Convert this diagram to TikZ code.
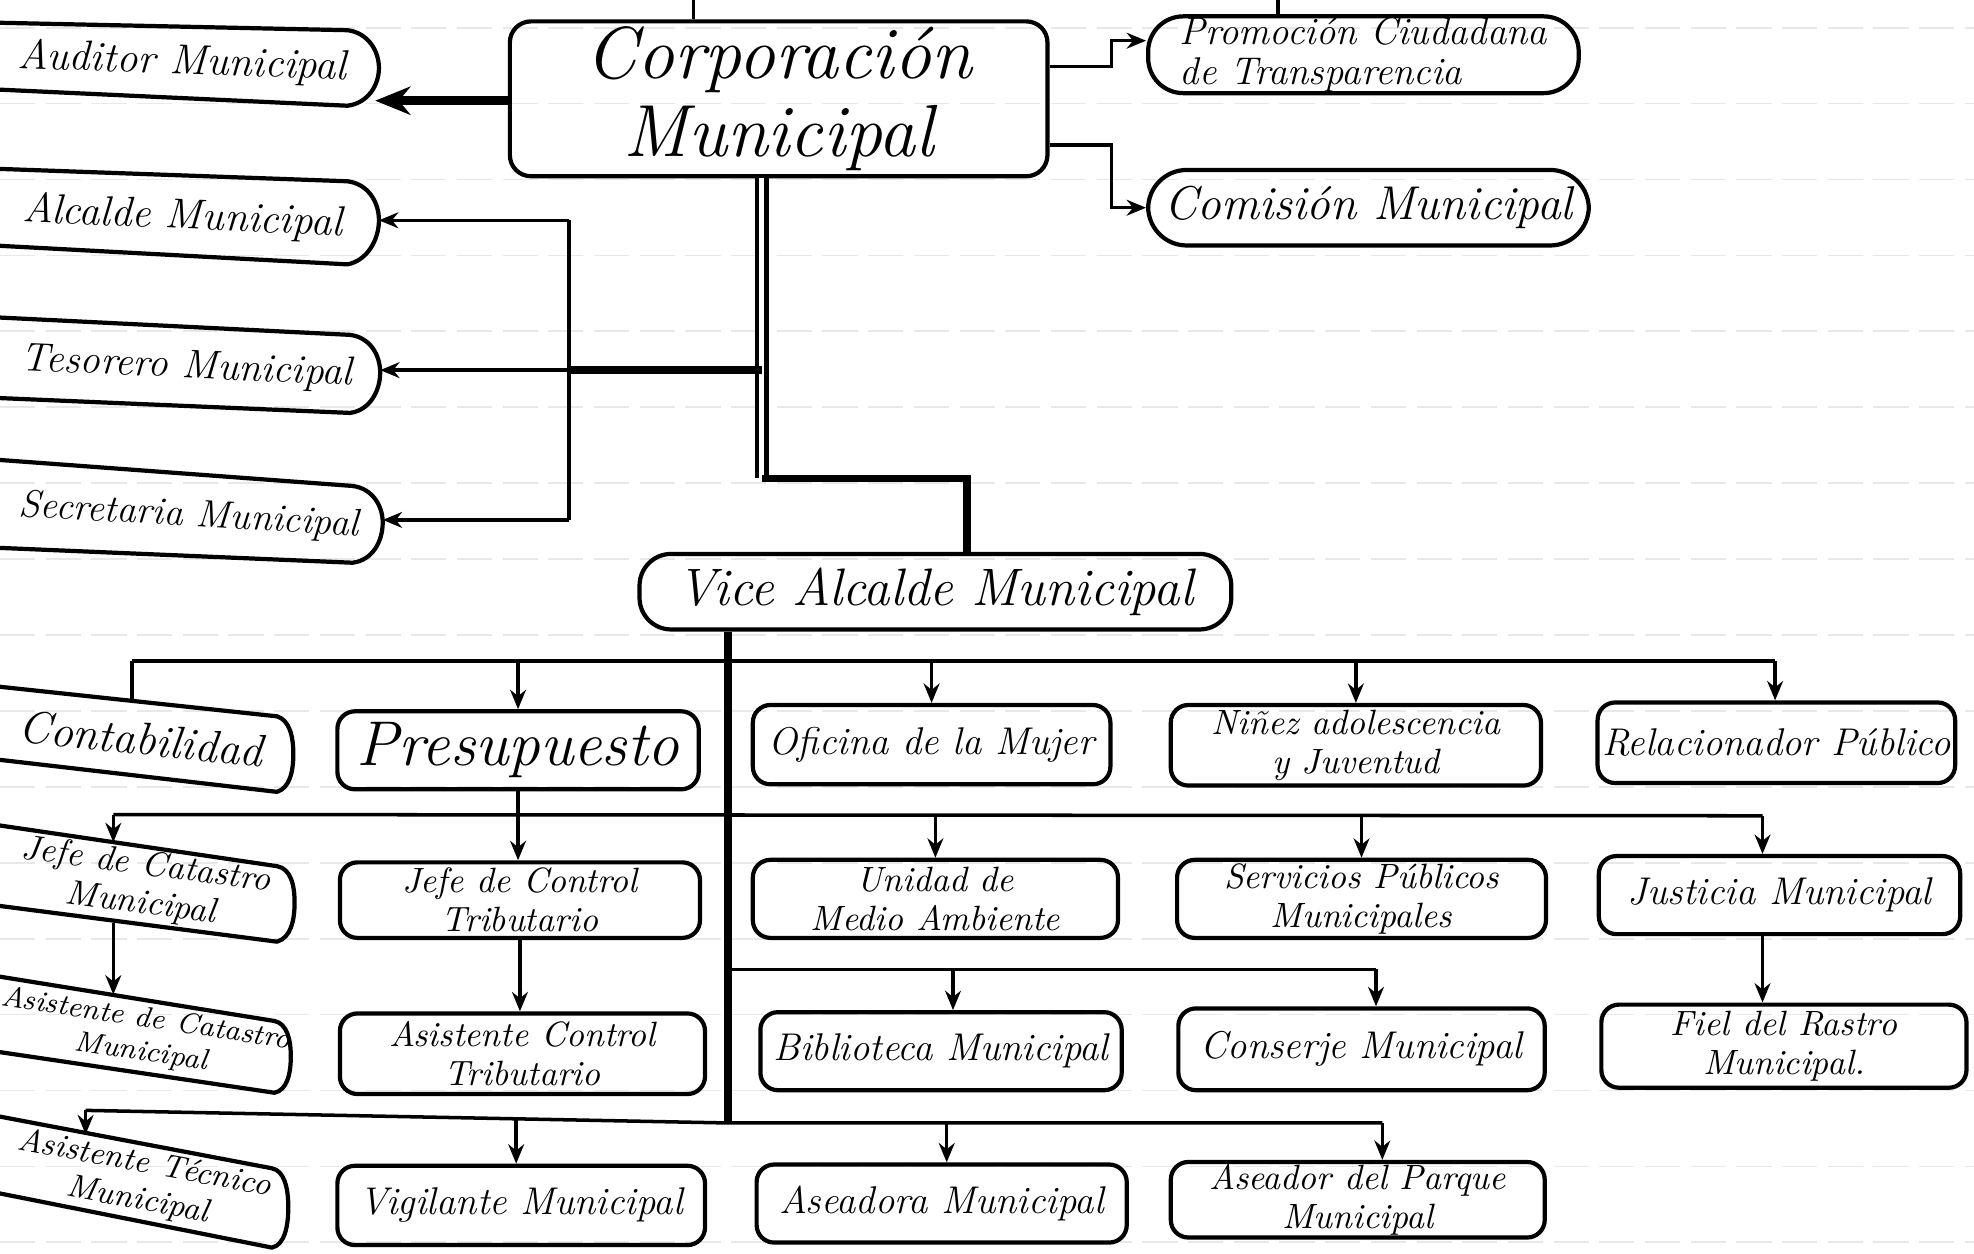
\documentclass[tikz,border=0pt]{standalone}
\usepackage{fontspec}
\usetikzlibrary{arrows.meta}
\tikzset{
  boxarea/.style args={#1,#2,#3,#4}{at={({(#1+#3)/2},{(#2+#4)/2})}, minimum width={(#3-#1)*0.35819pt}, minimum height={(#4-#2)*0.35819pt}},
  bx/.style={draw, line width=1.2pt, rounded corners=5pt, inner sep=0pt, align=center, font=\itshape\fontsize{11}{11}\selectfont},
  two/.style={font=\itshape\fontsize{10}{11}\selectfont},
  lbl/.style={inner sep=0pt, align=center, font=\itshape\fontsize{11}{11}\selectfont},
  outl/.style={line width=1.2pt, line join=round},
  conn/.style={line width=1pt},
  arr/.style={conn, -{Stealth[length=5.5pt,width=4.5pt]}},
  bigarr/.style={line width=2.4pt, -{Stealth[length=10pt,width=8pt]}},
  dbl/.style={double=white, double distance=1.3pt, line width=1.3pt},
  trunk/.style={line width=2.2pt},
  ruling/.style={black!9, line width=0.5pt, dash pattern=on 10pt off 3pt},
}
\begin{document}
\begin{tikzpicture}[x=0.012589cm, y=-0.012589cm]
\useasboundingbox (0,0) rectangle (1568,996);
\clip (0,0) rectangle (1568,996);
% notebook ruling
\foreach \k in {0,...,16} \draw[ruling] (0,{22+60.3*\k}) -- (1568,{22+60.3*\k});

% ---- top level
\node[bx, rounded corners=6pt, boxarea={405,17,832,140}, font=\itshape\fontsize{21}{22}\selectfont] (corp) {Corporación\\Municipal};
\node[bx, rounded corners=10pt, boxarea={912,13,1254,74}, align=left, font=\itshape\fontsize{11}{11.5}\selectfont] (promo) {Promoción Ciudadana\\de Transparencia};
\node[bx, rounded corners=11pt, boxarea={912,135,1262,195}, font=\itshape\fontsize{13.5}{13.5}\selectfont] (comi) {Comisión Municipal};
\node[bx, rounded corners=9pt, boxarea={508,440,978,500}, font=\itshape\fontsize{15}{15}\selectfont] (vice) {Vice Alcalde Municipal};

% ---- left column (cut at page edge)
\draw[outl] (-5,18) -- (276,24) .. controls (292,26) and (301,40) .. (301,54) .. controls (301,68) and (292,82) .. (276,84) -- (-5,71);
\node[lbl, rotate=-2, font=\itshape\fontsize{12}{12}\selectfont] (aud) at (145,50) {Auditor Municipal};
\coordinate (audR) at (298,80);

\draw[outl] (-5,134) -- (276,144) .. controls (292,146) and (301,160) .. (301,175) .. controls (301,190) and (292,207) .. (276,210) -- (-5,195);
\node[lbl, rotate=-2.5, font=\itshape\fontsize{12}{12}\selectfont] (alc) at (145,173) {Alcalde Municipal};
\coordinate (alcR) at (301,175);

\draw[outl] (-5,252) -- (278,266) .. controls (294,268) and (302,282) .. (302,296) .. controls (302,310) and (294,326) .. (278,328) -- (-5,316);
\node[lbl, rotate=-2.6, font=\itshape\fontsize{11.5}{11.5}\selectfont] (tes) at (148,292) {Tesorero Municipal};
\coordinate (tesR) at (302,294);

\draw[outl] (-5,365) -- (280,386) .. controls (296,388) and (304,402) .. (304,415) .. controls (304,430) and (296,445) .. (280,447) -- (-5,435);
\node[lbl, rotate=-3.3, font=\itshape\fontsize{11}{11}\selectfont] (sec) at (150,410) {Secretaria Municipal};
\coordinate (secR) at (304,413);

% ---- connectors from Corporación
\coordinate (tA) at (551,0);
\draw[conn] (tA) -- (tA |- corp.north);
\coordinate (tB) at (1015,0);
\draw[conn] (tB) -- (tB |- promo.north);
\draw[bigarr] (corp.west |- audR) -- (audR);
\coordinate (c1) at (605,380);
\coordinate (c2) at (768,380);
\draw[dbl] (c1 |- corp.south) -- (c1);
\draw[trunk] (c1) -- (c2) -- (c2 |- vice.north);
\coordinate (j1) at (605,294);
\coordinate (j2) at (452,294);
\draw[trunk] (j1) -- (j2);
\draw[conn] (j2 |- alcR) -- (j2 |- secR);
\draw[arr] (j2 |- alcR) -- (alcR);
\draw[arr] (j2) -- (tesR);
\draw[arr] (j2 |- secR) -- (secR);
\coordinate (k1) at (883,53);
\coordinate (k2) at (883,115);
\draw[arr] (corp.east |- k1) -- (k1) |- ([yshift=4pt]promo.west);
\draw[arr] (corp.east |- k2) -- (k2) |- (comi.west);

% ---- rows under Vice Alcalde
\draw[outl] (-5,545) -- (220,569) .. controls (230,572) and (233,585) .. (233,599) .. controls (233,613) and (230,626) .. (220,629) -- (-5,603);
\node[lbl, rotate=-6, font=\itshape\fontsize{13}{13}\selectfont] (cont) at (112,587) {Contabilidad};
\coordinate (contT) at (105,557);
\node[bx, boxarea={268,565,555,627}, font=\itshape\fontsize{18}{18}\selectfont] (presu) {Presupuesto};
\node[bx, boxarea={598,560,882,623}] (ofi) {Oficina de la Mujer};
\node[bx, two, boxarea={930,560,1224,624}] (nin) {Niñez adolescencia\\y Juventud};
\node[bx, boxarea={1269,558,1553,622}] (rel) {Relacionador Público};

\draw[outl] (-5,655) -- (220,688) .. controls (231,690) and (234,703) .. (234,717) .. controls (234,731) and (231,745) .. (220,748) -- (-5,719);
\node[lbl, two, rotate=-7.5] (jcat) at (114,703) {Jefe de Catastro\\Municipal};
\coordinate (jcatT) at (90,669);
\coordinate (jcatB) at (90,733);
\node[bx, two, boxarea={270,685,556,745}] (jctl) {Jefe de Control\\Tributario};
\node[bx, two, boxarea={598,683,888,745}] (uma) {Unidad de\\Medio Ambiente};
\node[bx, two, boxarea={935,683,1228,745}] (spm) {Servicios Públicos\\Municipales};
\node[bx, boxarea={1270,680,1557,742}] (jus) {Justicia Municipal};

\draw[outl] (-5,775) -- (218,811) .. controls (228,813) and (231,826) .. (231,839) .. controls (231,853) and (228,866) .. (218,868) -- (-5,835);
\node[lbl, rotate=-8.5, font=\itshape\fontsize{8.3}{9.5}\selectfont] (acat) at (114,823) {Asistente de Catastro\\Municipal};
\coordinate (acatT) at (90,790);
\node[bx, two, boxarea={270,805,560,869}] (actl) {Asistente Control\\Tributario};
\node[bx, boxarea={604,804,891,866}] (bib) {Biblioteca Municipal};
\node[bx, boxarea={936,801,1227,866}] (cons) {Conserje Municipal};
\node[bx, two, boxarea={1272,798,1562,864}] (fiel) {Fiel del Rastro\\Municipal.};

\draw[outl] (-5,886) -- (216,928) .. controls (226,930) and (229,944) .. (229,959) .. controls (229,974) and (226,989) .. (216,991) -- (-5,947);
\node[lbl, rotate=-10.5, font=\itshape\fontsize{9.3}{10.5}\selectfont] (atec) at (112,939) {Asistente Técnico\\Municipal};
\coordinate (atecT) at (68,901);
\node[bx, boxarea={268,926,560,989}] (vig) {Vigilante Municipal};
\node[bx, boxarea={601,925,895,987}] (asea) {Aseadora Municipal};
\node[bx, two, boxarea={930,923,1227,983}] (asep) {Aseador del Parque\\Municipal};

% ---- trunk and buses
\coordinate (v1) at (578,892);
\draw[trunk] (vice.south -| v1) -- (v1);

\coordinate (b1L) at (105,525);
\coordinate (b1R) at (1410,525);
\draw[conn] (b1L) -- (b1R);
\draw[conn] (b1L) -- (contT);
\draw[arr] (presu.north |- b1L) -- (presu.north);
\draw[arr] (ofi.north |- b1L) -- (ofi.north);
\draw[arr] (nin.north |- b1L) -- (nin.north);
\draw[arr] (b1R) -- (b1R |- rel.north);

\coordinate (b2L) at (90,647);
\coordinate (b2R) at (1400,648);
\draw[conn] (b2L) -- (b2R);
\draw[arr] (b2L) -- (jcatT);
\draw[arr] (presu.south) -- (presu.south |- jctl.north);
\draw[arr] (uma.north |- b2R) -- (uma.north);
\draw[arr] (spm.north |- b2R) -- (spm.north);
\draw[arr] (b2R) -- (b2R |- jus.north);

\draw[arr] (jcatB) -- (acatT);
\draw[arr] (jctl.south) -- (jctl.south |- actl.north);
\draw[arr] (b2R |- jus.south) -- (b2R |- fiel.north);

\coordinate (b3L) at (578,770);
\coordinate (b3a) at (757,770);
\coordinate (b3R) at (1093,770);
\draw[conn] (b3L) -- (b3R);
\draw[arr] (b3a) -- (b3a |- bib.north);
\draw[arr] (b3R) -- (b3R |- cons.north);

\coordinate (b4L) at (68,882);
\coordinate (b4a) at (410,889);
\coordinate (b4b) at (752,892);
\coordinate (b4R) at (1098,892);
\draw[conn] (b4L) -- (v1) -- (b4R);
\draw[arr] (b4L) -- (atecT);
\draw[arr] (b4a) -- (b4a |- vig.north);
\draw[arr] (b4b) -- (b4b |- asea.north);
\draw[arr] (b4R) -- (b4R |- asep.north);
\end{tikzpicture}
\end{document}
